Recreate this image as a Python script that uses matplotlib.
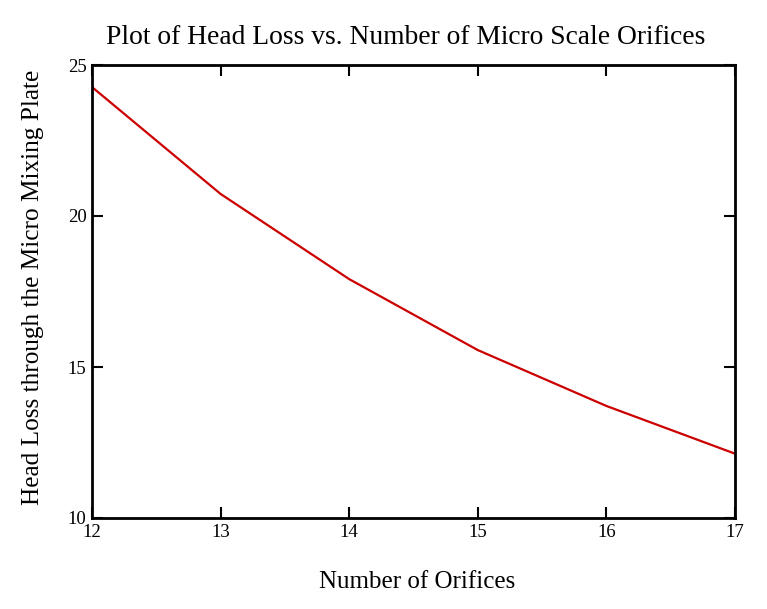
import matplotlib
matplotlib.use("Agg")
import matplotlib.pyplot as plt

orifices = [12, 13, 14, 15, 16, 17]
head_loss = [24.27, 20.73, 17.91, 15.56, 13.71, 12.13]
x_ticks = [12, 13, 14, 15, 16, 17]
y_ticks = [10, 15, 20, 25]

plt.rcParams["font.family"] = ["Liberation Serif", "DejaVu Serif"]

W, H = 767, 609
fig = plt.figure(figsize=(W / 100, H / 100), dpi=100)
ax = fig.add_axes([92 / W, 1 - 518 / H, (735 - 92) / W, (518 - 65) / H])

ax.plot(orifices, head_loss, color="#cc0000", linewidth=1.6)

ax.set_xlim(12, 17)
ax.set_ylim(10, 25)
ax.set_xticks(x_ticks)
ax.set_yticks(y_ticks)
ax.tick_params(direction="in", length=8, width=1.5, labelsize=13.5,
               top=True, right=True, pad=4)
for side in ax.spines.values():
    side.set_linewidth(2)
    side.set_color("black")

fig.text(406 / W, 1 - 37 / H, "Plot of Head Loss vs. Number of Micro Scale Orifices",
         ha="center", va="center", fontsize=19.8)
fig.text(417 / W, 1 - 582 / H, "Number of Orifices", ha="center", va="center", fontsize=18)
fig.text(33 / W, 1 - 287 / H, "Head Loss through the Micro Mixing Plate",
         ha="center", va="center", rotation=90, fontsize=18.2)

fig.savefig("out.png", dpi=100)
